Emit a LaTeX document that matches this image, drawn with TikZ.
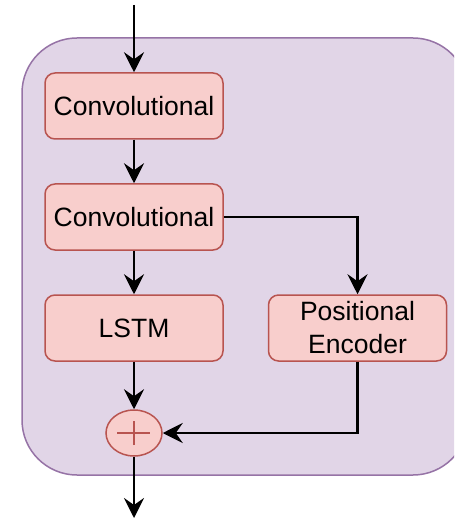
\documentclass[tikz,border=0pt]{standalone}
\usepackage{fontspec}
\setmainfont{Liberation Sans}
\usetikzlibrary{arrows.meta,shapes.geometric}
\definecolor{groupfill}{HTML}{E1D5E7}
\definecolor{groupline}{HTML}{9673A6}
\definecolor{blockfill}{HTML}{F8CECC}
\definecolor{blockline}{HTML}{B85450}
\tikzset{
  block/.style={draw=blockline, fill=blockfill, line width=1.5pt,
    rounded corners=10pt, minimum width=178pt, minimum height=66pt,
    inner sep=0pt, align=center, font=\fontsize{26.5}{33}\selectfont},
  flow/.style={line width=2.5pt,
    -{Stealth[length=20pt, width=20pt, inset=7pt]}},
  sumnode/.style={draw=blockline, fill=blockfill, line width=1.5pt, ellipse,
    minimum width=56pt, minimum height=46pt, inner sep=0pt},
}
\begin{document}
\begin{tikzpicture}[x=1pt,y=-1pt]
  \useasboundingbox (0,0) rectangle (454,518);
  \clip (0,0) rectangle (454,518);
  % enclosing group
  \draw[groupline, fill=groupfill, line width=1.5pt, rounded corners=55pt]
    (22,38) rectangle (468,475);
  % blocks
  \node[block] (conv1) at (134,106) {Convolutional};
  \node[block] (conv2) at (134,217) {Convolutional};
  \node[block] (lstm)  at (134,328) {LSTM};
  \node[block] (pos)   at (357.5,328) {Positional\\Encoder};
  \node[sumnode] (sum) at (134,433) {};
  \draw[blockline, line width=1.5pt] ([xshift=-17pt]sum.center) -- ([xshift=16pt]sum.center)
    ([yshift=-12pt]sum.center) -- ([yshift=12pt]sum.center);
  % free ends
  \coordinate (in) at (134,5);
  \coordinate (out) at (134,518);
  % connectors
  \draw[flow] (in) -- (conv1);
  \draw[flow] (conv1) -- (conv2);
  \draw[flow] (conv2) -- (lstm);
  \draw[flow] (conv2.east) -| (pos.north);
  \draw[flow] (lstm) -- (sum);
  \draw[flow] (pos.south) |- (sum.east);
  \draw[flow] (sum) -- (out);
\end{tikzpicture}
\end{document}
